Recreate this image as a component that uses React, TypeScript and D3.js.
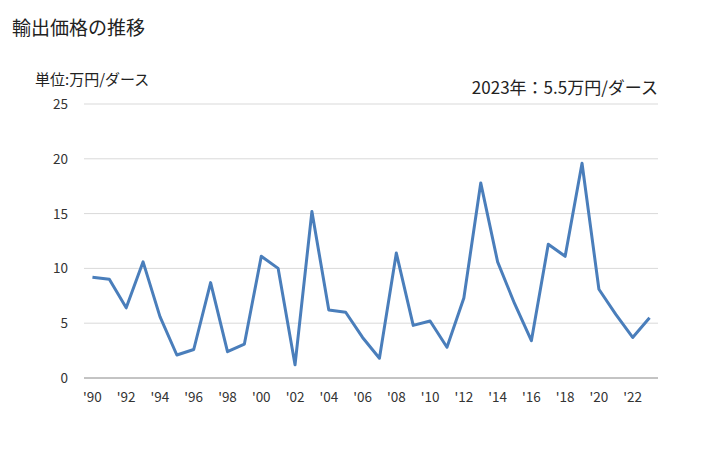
import React from "react";
import * as d3 from "d3";

const years: number[] = Array.from({ length: 34 }, (_, i) => 1990 + i);
const values: number[] = [
  9.2, 9.0, 6.4, 10.6, 5.6, 2.1, 2.6, 8.7, 2.4, 3.1,
  11.1, 10.0, 1.2, 15.2, 6.2, 6.0, 3.7, 1.8, 11.4, 4.8,
  5.2, 2.8, 7.3, 17.8, 10.6, 6.8, 3.4, 12.2, 11.1, 19.6,
  8.1, 5.8, 3.7, 5.5,
];
const yTicks: number[] = [0, 5, 10, 15, 20, 25];
const title = "輸出価格の推移";
const unitLabel = "単位:万円/ダース";
const annotation = "2023年：5.5万円/ダース";

const W = 728;
const H = 450;
const left = 84;
const right = 658;
const top = 104;
const bottom = 378;
const font = "'Noto Sans CJK JP', 'Noto Sans', sans-serif";

export default function App() {
  const x = d3.scalePoint<number>().domain(years).range([left, right]).padding(0.5);
  const y = d3.scaleLinear().domain([0, 25]).range([bottom, top]);
  const line = d3
    .line<number>()
    .x((_, i) => x(years[i]) as number)
    .y((d) => y(d));

  return (
    <svg
      width={W}
      height={H}
      style={{ position: "absolute", left: 0, top: 0, background: "#fff" }}
      fontFamily={font}
    >
      <text x={12} y={35} fontSize={19} fill="#222">{title}</text>
      <text x={35} y={85} fontSize={15} fill="#222">{unitLabel}</text>
      <text x={right} y={94} fontSize={17} fill="#222" textAnchor="end">{annotation}</text>
      {yTicks.map((t) => (
        <g key={t}>
          <line
            x1={left}
            x2={right}
            y1={y(t)}
            y2={y(t)}
            stroke={t === 0 ? "#888" : "#d9d9d9"}
            strokeWidth={1}
          />
          <text x={68} y={y(t) + 5} fontSize={13.5} textAnchor="end" fill="#333">{t}</text>
        </g>
      ))}
      {years.filter((yr) => yr % 2 === 0).map((yr) => (
        <text key={yr} x={x(yr) as number} y={402} fontSize={13.5} textAnchor="middle" fill="#333">
          {"'" + String(yr % 100).padStart(2, "0")}
        </text>
      ))}
      <path d={line(values) || ""} fill="none" stroke="#4a7ebb" strokeWidth={3} strokeLinejoin="round" />
    </svg>
  );
}
